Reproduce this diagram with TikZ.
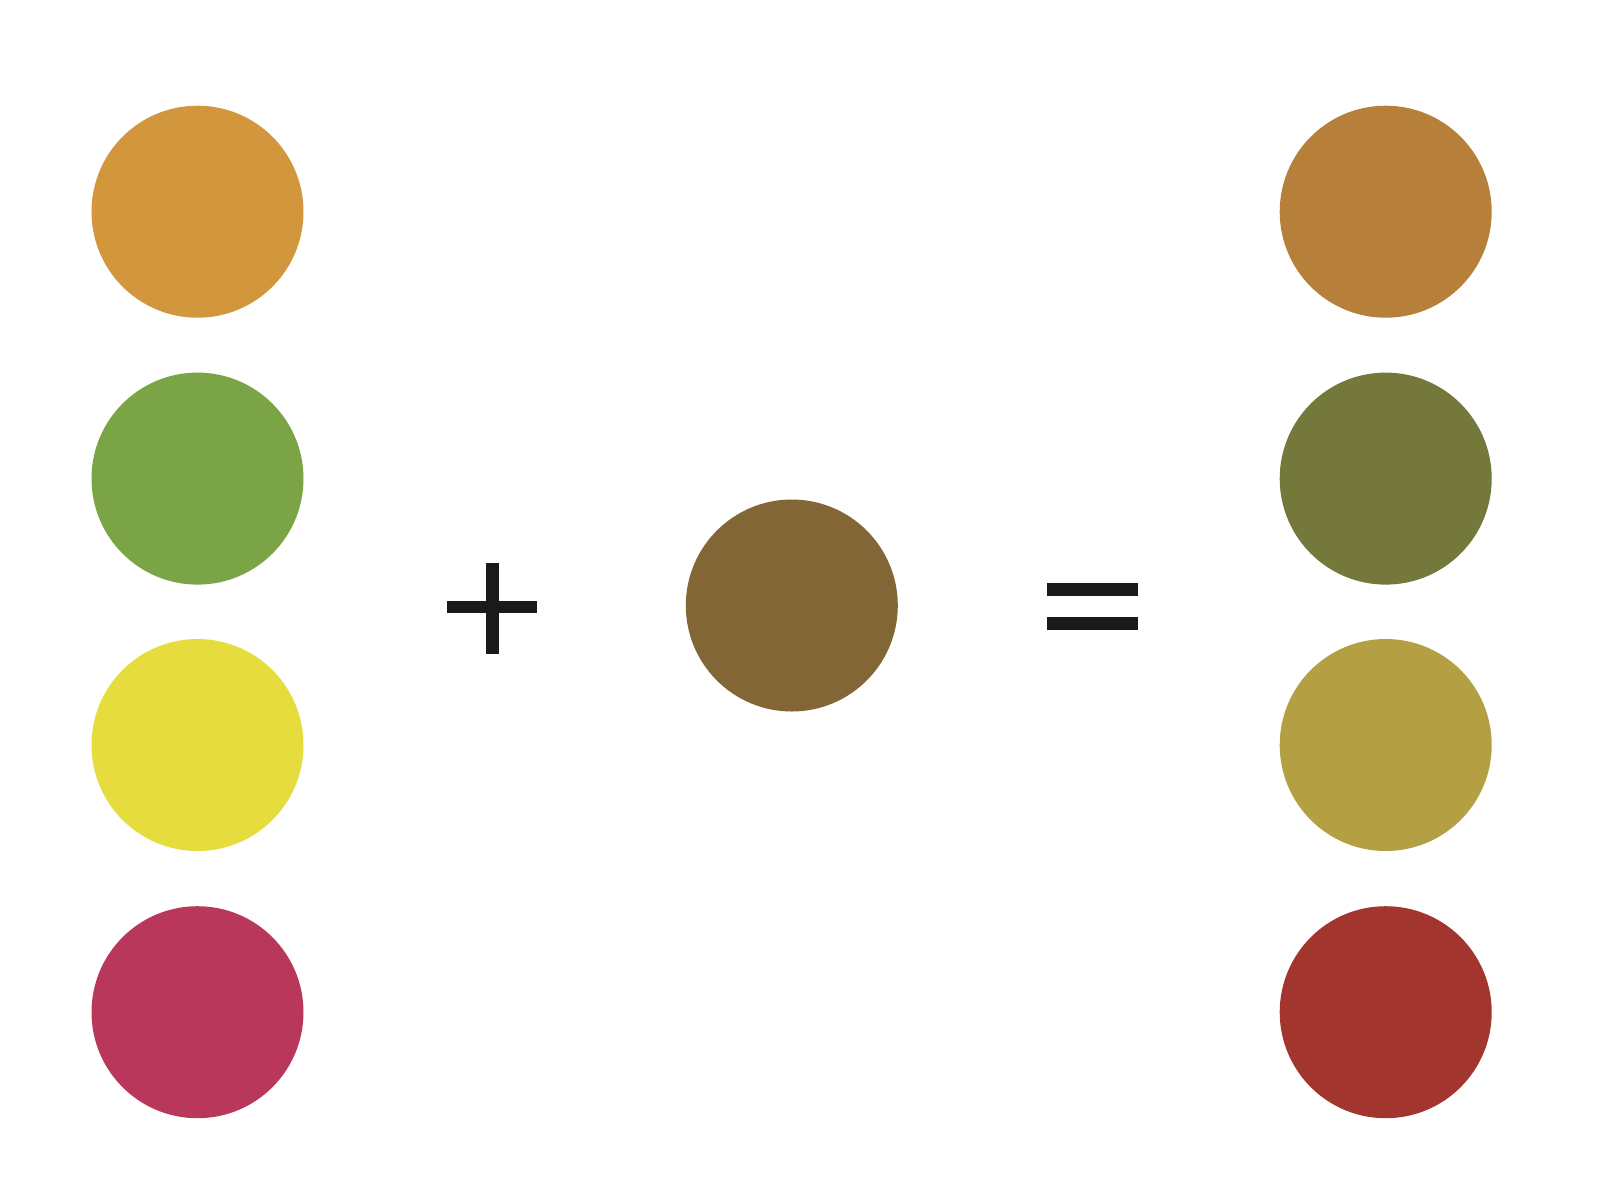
\documentclass[tikz,border=0pt]{standalone}
\definecolor{cOrange}{HTML}{D2963C}
\definecolor{cGreen}{HTML}{7BA447}
\definecolor{cYellow}{HTML}{E6DC3E}
\definecolor{cMagenta}{HTML}{BA375C}
\definecolor{cMid}{HTML}{836636}
\definecolor{rOrange}{HTML}{B7803A}
\definecolor{rGreen}{HTML}{74783A}
\definecolor{rYellow}{HTML}{B4A043}
\definecolor{rRed}{HTML}{A2362F}
\definecolor{symb}{HTML}{1C1A18}
\begin{document}
\begin{tikzpicture}[x=1pt,y=-1pt,
  dot/.style={circle,inner sep=0pt,minimum size=212pt,draw=none},
  bar/.style={fill=symb,draw=none}]
\useasboundingbox (0,0) rectangle (1600,1195);
\fill[white] (0,0) rectangle (1600,1195);
% left column
\node[dot,fill=cOrange] (l1) at (197.5,211.7) {};
\node[dot,fill=cGreen] (l2) at (197.5,478.6) {};
\node[dot,fill=cYellow] (l3) at (197.5,745.0) {};
\node[dot,fill=cMagenta] (l4) at (197.5,1012.2) {};
% middle
\node[dot,fill=cMid] (m) at (791.8,605.5) {};
% right column
\node[dot,fill=rOrange] (r1) at (1385.7,211.7) {};
\node[dot,fill=rGreen] (r2) at (1385.7,478.6) {};
\node[dot,fill=rYellow] (r3) at (1385.7,745.0) {};
\node[dot,fill=rRed] (r4) at (1385.7,1012.2) {};
% plus
\fill[bar] (485.7,563.3) rectangle (499,654);
\fill[bar] (446.7,600.7) rectangle (537.3,612.7);
% equals
\fill[bar] (1047.3,583.3) rectangle (1138.3,595.7);
\fill[bar] (1047.3,617.3) rectangle (1138.3,630);
\end{tikzpicture}
\end{document}
